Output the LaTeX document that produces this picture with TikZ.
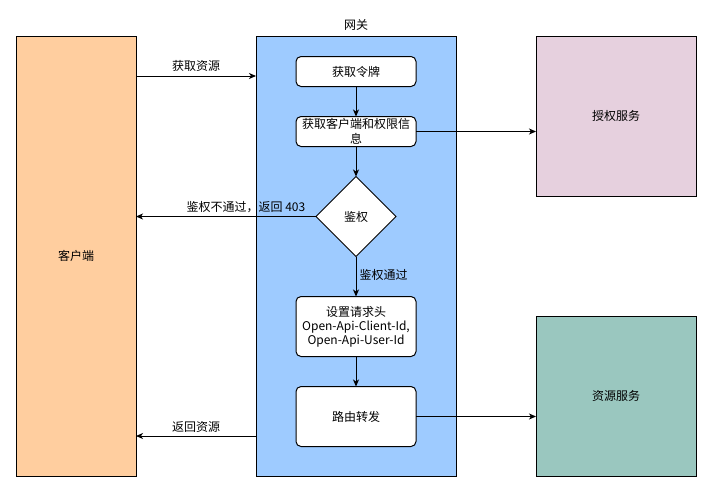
\documentclass[tikz,border=0pt]{standalone}
\usepackage{fontspec}
\setmainfont{Noto Sans CJK SC}
\usepackage{xcolor}
\usetikzlibrary{arrows.meta}
\usetikzlibrary{positioning, shapes.geometric}

\definecolor{clientfill}{HTML}{FFCE9F}
\definecolor{gatewayfill}{HTML}{9ECBFF}
\definecolor{authfill}{HTML}{E6D0DE}
\definecolor{resfill}{HTML}{9AC7BF}

\tikzset{
    panel/.style={draw, line width=1pt, outer sep=0pt},
    stepbox/.style={draw, line width=1pt, fill=white, rounded corners=5pt, outer sep=0pt,
        minimum width=120pt, minimum height=30pt, inner sep=1pt, align=center},
    decision/.style={diamond, draw, line width=1pt, fill=white, aspect=1, outer sep=0pt,
        minimum width=80pt, minimum height=80pt, inner sep=0pt},
    flow/.style={line width=1pt, -{Stealth[length=7pt, width=6pt, inset=2pt]}},
}

\begin{document}
\begin{tikzpicture}[x=1pt, y=-1pt, font=\fontsize{12}{15}\selectfont]
    \useasboundingbox (0,0) rectangle (713,493);

    \node[panel, fill=clientfill, minimum width=120pt, minimum height=440pt] (client) at (76,256) {客户端};
    \node[panel, fill=gatewayfill, minimum width=200pt, minimum height=440pt] (gateway) at (356,256) {};
    \node (gwtitle) at (356,25) {网关};
    \node[panel, fill=authfill, minimum width=160pt, minimum height=160pt] (authsvc) at (616,116) {授权服务};
    \node[panel, fill=resfill, minimum width=160pt, minimum height=160pt] (ressvc) at (616,396) {资源服务};

    \node[stepbox] (token) at (356,71.5) {获取令牌};
    \node[stepbox, below=30pt of token, inner ysep=0pt, font=\fontsize{12}{14.5}\selectfont] (info) {获取客户端和权限信\\息};
    \node[decision, below=30pt of info] (check) {鉴权};
    \node[stepbox, minimum height=60pt, below=40pt of check, font=\fontsize{12}{14}\selectfont] (header)
        {设置请求头\\Open-Api-Client-Id,\\Open-Api-User-Id};
    \node[stepbox, minimum height=60pt, below=30pt of header] (route) {路由转发};

    \draw[flow] ([yshift=-40pt]client.north east) -- node[above, inner sep=4pt] {获取资源} ([yshift=-40pt]gateway.north west);
    \draw[flow] (token) -- (info);
    \draw[flow] (info) -- (check);
    \draw[flow] (info.east) -- (info.east -| authsvc.west);
    \draw[flow] (check.west) -- node[pos=0.04, above left, inner sep=3pt] {鉴权不通过，返回 403} (check.west -| client.east);
    \draw[flow] (check) -- node[pos=0.47, right, inner sep=3pt] {鉴权通过} (header);
    \draw[flow] (header) -- (route);
    \draw[flow] (route.east) -- (route.east -| ressvc.west);
    \draw[flow] ([yshift=40pt]gateway.south west) -- node[above, inner sep=3pt] {返回资源} ([yshift=40pt]client.south east);
\end{tikzpicture}
\end{document}
